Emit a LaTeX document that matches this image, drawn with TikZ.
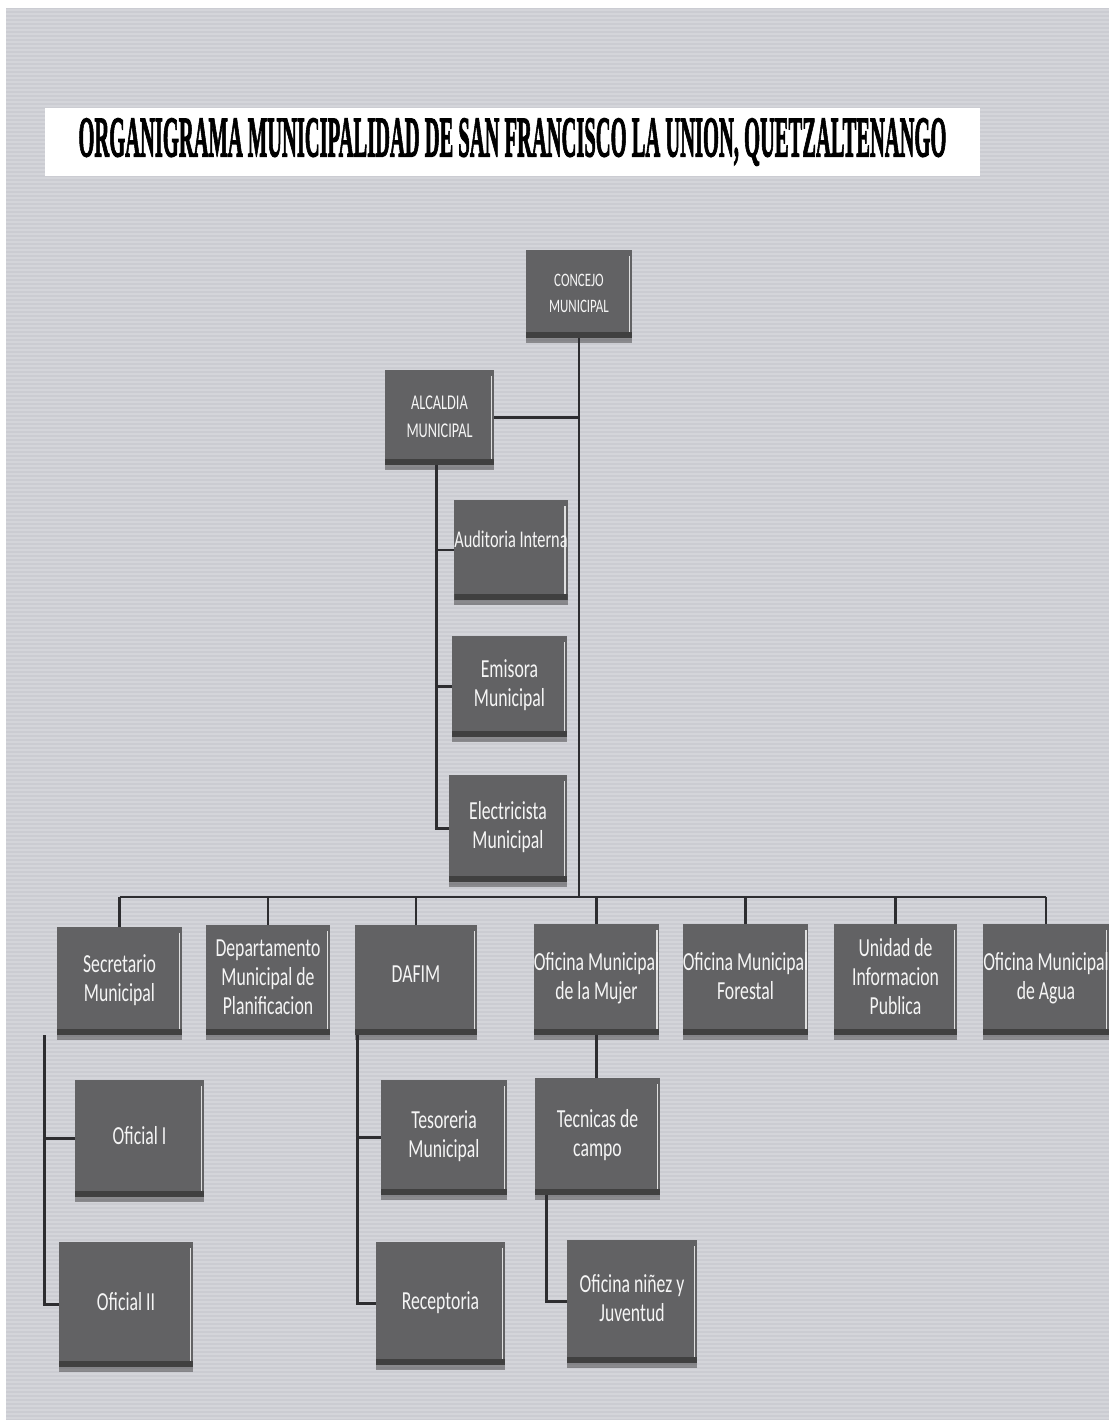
\documentclass[tikz,border=0pt]{standalone}
\usepackage{fontspec}
\usepackage{graphicx}
\newfontfamily\carlito{Carlito}
\newfontfamily\titlefont[FakeBold=2.5]{Liberation Serif Bold}
\usetikzlibrary{shadows}
\definecolor{bggray}{RGB}{203,204,210}
\definecolor{boxgray}{RGB}{98,98,100}
\definecolor{linegray}{RGB}{45,45,48}
\newcommand\bx[1]{\scalebox{0.68}[1]{\begin{tabular}{@{}c@{}}#1\end{tabular}}}
\newcommand\orgnode[6]{\node[orgbox, minimum width={(#4-#2)*0.5pt}, minimum height={(#5-#3)*0.5pt}] (#1) at ({(#2+#4)/2},{(#3+#5)/2}) {#6};}
\tikzset{
  orgbox/.style={fill=boxgray, inner sep=0pt, text=gray!8,
    font=\carlito\fontsize{13}{14.5}\selectfont,
    drop shadow={shadow xshift=0pt, shadow yshift=-2.5pt, opacity=.35, fill=black},
    path picture={
      \fill[black!75] (path picture bounding box.south west) rectangle ([yshift=3pt]path picture bounding box.south east);
      \fill[gray!25] ([xshift=-1.6pt,yshift=3pt]path picture bounding box.south east) rectangle ([xshift=-0.8pt,yshift=-3pt]path picture bounding box.north east);
    }},
  conn/.style={draw=linegray, line width=1.4pt}
}
\begin{document}
\begin{tikzpicture}[x=0.5pt,y=-0.5pt]
\useasboundingbox (0,0) rectangle (1109,1425);
\fill[white] (0,0) rectangle (1109,1425);
\fill[bggray] (6,8) rectangle (1109,1420);
\foreach \yy in {10,14,...,1418} \draw[white, opacity=0.18, line width=0.6pt] (6,\yy) -- (1109,\yy);

\node[fill=white, minimum width=467.5pt, minimum height=34pt, inner sep=0pt] (title) at (512.5,142)
  {\resizebox{434pt}{19pt}{\titlefont ORGANIGRAMA MUNICIPALIDAD DE SAN FRANCISCO LA UNION, QUETZALTENANGO}};

% top level
\orgnode{concejo}{526}{250}{632}{338}{\fontsize{9.5}{13}\selectfont\bx{CONCEJO\\MUNICIPAL}}
\orgnode{alcaldia}{385}{370}{494}{465}{\fontsize{10.5}{14}\selectfont\bx{ALCALDIA\\MUNICIPAL}}
\orgnode{auditoria}{455}{500}{567}{600}{\raisebox{12pt}{\fontsize{12}{14}\selectfont\bx{Auditoria Interna}}}
\orgnode{emisora}{452}{636}{567}{737}{\bx{Emisora\\Municipal}}
\orgnode{electricista}{449}{775}{567}{882}{\bx{Electricista\\Municipal}}

% second row
\orgnode{secretario}{57}{927}{182}{1035}{\bx{Secretario\\Municipal}}
\orgnode{planificacion}{206}{925}{330}{1035}{\bx{Departamento\\Municipal de\\Planificacion}}
\orgnode{dafim}{355}{925}{477}{1035}{\raisebox{8pt}{\bx{DAFIM}}}
\orgnode{mujer}{536}{924}{657}{1035}{\bx{Oficina Municipal\\de la Mujer}}
\orgnode{forestal}{685}{924}{806}{1035}{\bx{Oficina Municipal\\Forestal}}
\orgnode{unidad}{834}{924}{957}{1035}{\bx{Unidad de\\Informacion\\Publica}}
\orgnode{agua}{983}{924}{1109}{1035}{\bx{Oficina Municipal\\de Agua}}

% third level
\orgnode{oficial1}{75}{1080}{204}{1197}{\bx{Oficial I}}
\orgnode{oficial2}{59}{1242}{193}{1367}{\bx{Oficial II}}
\orgnode{tesoreria}{381}{1080}{507}{1195}{\bx{Tesoreria\\Municipal}}
\orgnode{receptoria}{376}{1242}{505}{1365}{\bx{Receptoria}}
\orgnode{tecnicas}{535}{1078}{660}{1195}{\bx{Tecnicas de\\campo}}
\orgnode{ninez}{567}{1240}{697}{1363}{\bx{Oficina niñez y\\Juventud}}

% connectors
\coordinate (busL) at (119.5,897);
\coordinate (busR) at (1046,897);
\draw[conn] (concejo.south) -- (concejo.south |- busL);
\draw[conn] (alcaldia.east) -- (alcaldia.east -| concejo.south);
\draw[conn] (busL) -- (busR);
\foreach \n in {secretario,planificacion,dafim,mujer,forestal,unidad,agua}
  \draw[conn] (\n.north |- busL) -- (\n.north);

\coordinate (alcL) at ([xshift=-1.5pt]alcaldia.south);
\draw[conn] (alcL) -- (alcL |- electricista.west) -- (electricista.west);
\draw[conn] (alcL |- auditoria.west) -- (auditoria.west);
\draw[conn] (alcL |- emisora.west) -- (emisora.west);

\coordinate (secL) at ([xshift=-6pt]secretario.south west);
\draw[conn] (secL) -- (secL |- oficial2.west) -- (oficial2.west);
\draw[conn] (secL |- oficial1.west) -- (oficial1.west);

\coordinate (dafL) at ([xshift=1.5pt]dafim.south west);
\draw[conn] (dafL) -- (dafL |- receptoria.west) -- (receptoria.west);
\draw[conn] (dafL |- tesoreria.west) -- (tesoreria.west);

\draw[conn] (mujer.south) -- (mujer.south |- tecnicas.north);
\coordinate (tecL) at ([xshift=6pt]tecnicas.south west);
\draw[conn] (tecL) -- (tecL |- ninez.west) -- (ninez.west);
\end{tikzpicture}
\end{document}
